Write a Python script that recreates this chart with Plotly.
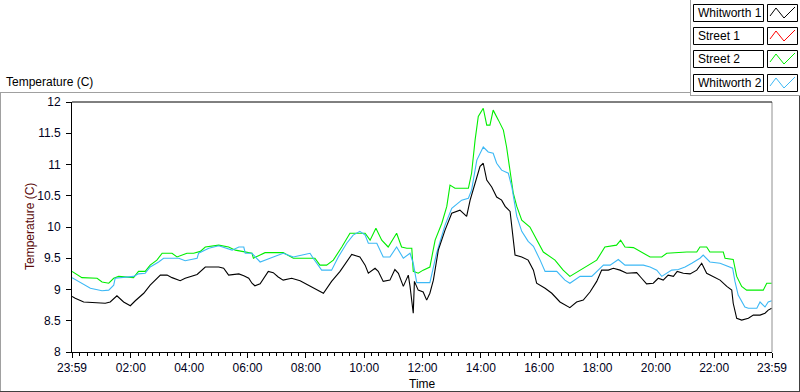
import plotly.graph_objects as go

# ---------------- data (hours elapsed since 23:59, temperature in C) ----------------
series_names = ["Whitworth 1", "Street 1", "Street 2", "Whitworth 2"]
series_colors = ["#000000", "#ff0000", "#00ee00", "#3cb8f5"]

tick_labels = ["23:59", "02:00", "04:00", "06:00", "08:00", "10:00", "12:00",
               "14:00", "16:00", "18:00", "20:00", "22:00", "23:59"]
tick_hours = [0] + [2 * i + 1 / 60 for i in range(1, 12)] + [24]

whitworth1_h = [
    0.00, 0.11, 0.40, 0.69, 1.14, 1.31, 1.54, 1.77, 2.00, 2.17,
    2.46, 2.68, 3.03, 3.26, 3.43, 3.71, 3.88, 4.29, 4.57, 5.03,
    5.20, 5.37, 5.72, 5.89, 6.06, 6.17, 6.27, 6.45, 6.73, 6.90,
    7.07, 7.24, 7.53, 7.82, 8.10, 8.33, 8.62, 8.90, 9.19, 9.59,
    9.87, 10.05, 10.16, 10.39, 10.50, 10.67, 10.90, 11.07, 11.19, 11.36,
    11.53, 11.59, 11.70, 11.74, 11.87, 12.04, 12.16, 12.27, 12.39, 12.56,
    12.79, 13.02, 13.30, 13.53, 13.65, 13.82, 13.99, 14.10, 14.22, 14.39,
    14.56, 14.73, 14.85, 15.02, 15.11, 15.19, 15.42, 15.64, 15.82, 15.93,
    16.22, 16.45, 16.73, 17.07, 17.30, 17.53, 17.76, 17.99, 18.16, 18.39,
    18.56, 18.79, 19.02, 19.36, 19.53, 19.70, 19.93, 20.10, 20.27, 20.44,
    20.62, 20.75, 20.96, 21.19, 21.42, 21.59, 21.76, 21.99, 22.22, 22.45,
    22.62, 22.67, 22.79, 22.96, 23.19, 23.36, 23.59, 23.76, 23.87, 23.99]
whitworth1_t = [
    8.89, 8.86, 8.80, 8.79, 8.78, 8.80, 8.90, 8.80, 8.74, 8.82,
    8.94, 9.07, 9.23, 9.23, 9.19, 9.14, 9.18, 9.24, 9.36, 9.36,
    9.34, 9.23, 9.25, 9.22, 9.18, 9.10, 9.06, 9.09, 9.29, 9.27,
    9.20, 9.15, 9.18, 9.14, 9.07, 9.00, 8.94, 9.13, 9.29, 9.56,
    9.52, 9.39, 9.26, 9.34, 9.29, 9.13, 9.15, 9.32, 9.26, 9.05,
    9.23, 9.05, 8.62, 9.13, 8.99, 8.96, 8.83, 8.94, 9.15, 9.63,
    9.95, 10.22, 10.27, 10.17, 10.43, 10.70, 10.97, 11.02, 10.75, 10.64,
    10.48, 10.43, 10.33, 10.25, 9.85, 9.55, 9.52, 9.47, 9.31, 9.10,
    9.02, 8.94, 8.80, 8.71, 8.80, 8.83, 8.96, 9.13, 9.31, 9.31,
    9.34, 9.31, 9.26, 9.27, 9.18, 9.09, 9.10, 9.18, 9.15, 9.23,
    9.21, 9.29, 9.26, 9.25, 9.31, 9.42, 9.26, 9.21, 9.15, 9.05,
    8.99, 8.78, 8.54, 8.51, 8.54, 8.59, 8.59, 8.62, 8.67, 8.70]

street1_h = []
street1_t = []

street2_h = [
    0.00, 0.23, 0.34, 0.86, 1.03, 1.26, 1.43, 1.60, 2.11, 2.28,
    2.51, 2.68, 2.91, 3.09, 3.43, 3.60, 3.94, 4.17, 4.40, 4.57,
    5.03, 5.37, 5.60, 5.83, 6.17, 6.22, 6.62, 7.24, 7.59, 8.33,
    8.50, 8.73, 8.96, 9.25, 9.53, 10.05, 10.22, 10.42, 10.62, 10.84,
    11.13, 11.30, 11.48, 11.65, 11.70, 11.87, 12.04, 12.27, 12.45, 12.68,
    12.85, 12.96, 13.13, 13.59, 13.70, 13.82, 13.93, 14.10, 14.22, 14.33,
    14.44, 14.62, 14.79, 14.90, 15.13, 15.25, 15.42, 15.70, 15.93, 16.16,
    16.56, 16.84, 17.07, 17.42, 17.70, 17.99, 18.27, 18.67, 18.81, 18.96,
    19.25, 19.47, 19.82, 20.22, 20.39, 21.08, 21.42, 21.53, 21.76, 21.87,
    22.33, 22.39, 22.67, 22.79, 22.96, 23.13, 23.70, 23.82, 23.99]
street2_t = [
    9.29, 9.23, 9.19, 9.18, 9.12, 9.10, 9.18, 9.21, 9.19, 9.29,
    9.29, 9.39, 9.47, 9.58, 9.58, 9.52, 9.58, 9.58, 9.61, 9.68,
    9.71, 9.68, 9.63, 9.61, 9.58, 9.50, 9.59, 9.59, 9.50, 9.50,
    9.39, 9.39, 9.47, 9.68, 9.90, 9.90, 9.79, 9.98, 9.79, 9.68,
    9.90, 9.68, 9.66, 9.66, 9.29, 9.26, 9.31, 9.36, 9.79, 10.06,
    10.33, 10.67, 10.62, 10.62, 10.86, 11.39, 11.77, 11.90, 11.63, 11.63,
    11.87, 11.71, 11.55, 11.28, 10.54, 10.33, 10.11, 10.00, 9.79, 9.60,
    9.47, 9.31, 9.21, 9.31, 9.39, 9.47, 9.68, 9.71, 9.79, 9.68,
    9.67, 9.61, 9.52, 9.52, 9.58, 9.60, 9.60, 9.68, 9.68, 9.60,
    9.60, 9.50, 9.48, 9.21, 9.05, 8.99, 8.99, 9.10, 9.10]

whitworth2_h = [
    0.00, 0.23, 0.46, 0.63, 1.03, 1.26, 1.43, 1.48, 2.11, 2.28,
    2.51, 2.68, 2.97, 3.14, 3.66, 3.88, 4.29, 4.34, 4.69, 5.03,
    5.49, 5.72, 5.89, 5.94, 6.17, 6.45, 6.79, 7.24, 7.59, 8.16,
    8.27, 8.39, 8.56, 8.90, 9.13, 9.42, 9.64, 9.87, 10.05, 10.16,
    10.45, 10.67, 10.90, 11.13, 11.36, 11.59, 11.70, 11.82, 12.27, 12.50,
    12.79, 13.02, 13.36, 13.59, 13.70, 13.88, 14.10, 14.27, 14.44, 14.56,
    14.73, 14.96, 15.08, 15.25, 15.42, 15.64, 15.82, 16.05, 16.22, 16.62,
    16.90, 17.07, 17.42, 17.82, 18.04, 18.22, 18.45, 18.73, 18.96, 19.59,
    19.82, 20.05, 20.22, 20.56, 20.79, 21.02, 21.25, 21.53, 21.64, 21.87,
    22.22, 22.50, 22.65, 22.73, 22.84, 23.07, 23.19, 23.48, 23.59, 23.76,
    23.87, 23.99]
whitworth2_t = [
    9.19, 9.13, 9.07, 9.02, 8.98, 8.99, 9.07, 9.18, 9.21, 9.25,
    9.26, 9.36, 9.44, 9.50, 9.50, 9.46, 9.50, 9.58, 9.66, 9.70,
    9.63, 9.68, 9.68, 9.58, 9.58, 9.44, 9.50, 9.58, 9.52, 9.58,
    9.50, 9.42, 9.31, 9.31, 9.52, 9.74, 9.87, 9.93, 9.87, 9.74,
    9.74, 9.52, 9.52, 9.68, 9.50, 9.58, 9.42, 9.11, 9.11, 9.58,
    10.03, 10.30, 10.43, 10.46, 10.59, 11.07, 11.28, 11.20, 11.18, 11.02,
    10.91, 10.86, 10.64, 10.17, 9.93, 9.77, 9.69, 9.47, 9.29, 9.29,
    9.15, 9.10, 9.21, 9.21, 9.31, 9.39, 9.39, 9.48, 9.39, 9.39,
    9.36, 9.31, 9.21, 9.31, 9.32, 9.36, 9.42, 9.50, 9.55, 9.44,
    9.42, 9.37, 9.34, 9.13, 8.91, 8.72, 8.70, 8.70, 8.80, 8.72,
    8.80, 8.82]

y_ticks = [8, 8.5, 9, 9.5, 10, 10.5, 11, 11.5, 12]

# ---------------- figure ----------------
W, H = 800, 392
L, R, T, B = 72, 772, 102, 352   # plot area in pixels
FONT = "Liberation Sans"
FS = 12


def px(x):
    return (x - L) / (R - L)


def py(y):
    return (B - y) / (B - T)


fig = go.Figure()
xs = [whitworth1_h, street1_h, street2_h, whitworth2_h]
ys = [whitworth1_t, street1_t, street2_t, whitworth2_t]
for i in [1, 2, 3, 0]:
    fig.add_trace(go.Scatter(x=xs[i], y=ys[i], mode="lines", name=series_names[i],
                             line=dict(color=series_colors[i], width=1.1),
                             showlegend=False, hoverinfo="skip"))

shapes = []
annotations = []

frame_grey = "#a0a0a0"
shapes.append(dict(type="line", xref="paper", yref="paper", x0=px(0), x1=px(690), y0=py(92.5), y1=py(92.5),
                   line=dict(color=frame_grey, width=1)))
shapes.append(dict(type="line", xref="paper", yref="paper", x0=px(0.5), x1=px(0.5), y0=py(92), y1=py(392),
                   line=dict(color=frame_grey, width=1)))
shapes.append(dict(type="line", xref="paper", yref="paper", x0=px(0), x1=px(800), y0=py(391.5), y1=py(391.5),
                   line=dict(color="#404040", width=1)))
shapes.append(dict(type="line", xref="paper", yref="paper", x0=px(799.5), x1=px(799.5), y0=py(95), y1=py(392),
                   line=dict(color="#404040", width=1)))
shapes.append(dict(type="line", xref="paper", yref="paper", x0=px(690.5), x1=px(690.5), y0=py(0), y1=py(95),
                   line=dict(color=frame_grey, width=1)))
shapes.append(dict(type="line", xref="paper", yref="paper", x0=px(690), x1=px(800), y0=py(95.5), y1=py(95.5),
                   line=dict(color=frame_grey, width=1)))
shapes.append(dict(type="line", xref="paper", yref="paper", x0=1, x1=1, y0=0, y1=1,
                   line=dict(color="#909090", width=1)))

row_tops = [4, 27, 50, 74]
for i, name in enumerate(series_names):
    t = row_tops[i]
    shapes.append(dict(type="rect", xref="paper", yref="paper",
                       x0=px(693.5), x1=px(763.5), y0=py(t + 0.5), y1=py(t + 17.5),
                       line=dict(color="#000000", width=1), fillcolor="white"))
    shapes.append(dict(type="rect", xref="paper", yref="paper",
                       x0=px(767.5), x1=px(797.5), y0=py(t + 0.5), y1=py(t + 17.5),
                       line=dict(color="#000000", width=1), fillcolor="white"))
    pts = [(770, t + 12), (776, t + 4), (784, t + 14), (795, t + 3)]
    path = "M " + " L ".join(f"{px(a):.5f},{py(b):.5f}" for a, b in pts)
    shapes.append(dict(type="path", xref="paper", yref="paper", path=path,
                       line=dict(color=series_colors[i], width=1)))
    annotations.append(dict(xref="paper", yref="paper", x=px(695.5), y=py(t + 9),
                            xanchor="left", yanchor="middle", showarrow=False, text=name,
                            font=dict(family=FONT, size=FS, color="#000000")))

annotations.append(dict(xref="paper", yref="paper", x=px(4), y=py(82), xanchor="left", yanchor="middle",
                        showarrow=False, text="Temperature (C)",
                        font=dict(family=FONT, size=FS, color="#000000")))
# y-axis title
annotations.append(dict(xref="paper", yref="paper", x=px(30), y=py(227), xanchor="center", yanchor="middle",
                        showarrow=False, text="Temperature (C)", textangle=-90,
                        font=dict(family=FONT, size=FS, color="#5a0a0a")))
# x-axis title
annotations.append(dict(xref="paper", yref="paper", x=px(422), y=py(384), xanchor="center", yanchor="middle",
                        showarrow=False, text="Time",
                        font=dict(family=FONT, size=FS, color="#000000")))

fig.update_layout(
    width=W, height=H,
    margin=dict(l=L, r=W - R, t=T, b=H - B, pad=0),
    paper_bgcolor="white", plot_bgcolor="white",
    font=dict(family=FONT, size=FS, color="#000000"),
    shapes=shapes, annotations=annotations,
    showlegend=False,
    xaxis=dict(range=[0, 24], tickmode="array", tickvals=tick_hours, ticktext=tick_labels,
               automargin=False,
               ticks="outside", ticklen=5, tickcolor="#000000", showgrid=False, zeroline=False,
               showline=True, linecolor="#000000", linewidth=1, mirror=False,
               ticklabelstandoff=0,
               tickfont=dict(family=FONT, size=FS, color="#000020"),
               minor=dict(ticks="outside", ticklen=3, tickcolor="#000000", dtick=0.25, tick0=1 / 60,
                          showgrid=False)),
    yaxis=dict(range=[8, 12], tickmode="array", tickvals=y_ticks,
               ticktext=[f"{v:g}" for v in y_ticks],
               automargin=False,
               ticks="outside", ticklen=5, tickcolor="#000000", showgrid=False, zeroline=False,
               showline=True, linecolor="#000000", linewidth=1,
               ticklabelstandoff=3,
               tickfont=dict(family=FONT, size=FS, color="#000020")),
)
fig.add_shape(type="line", xref="paper", yref="paper", x0=0, x1=1, y0=1, y1=1,
              line=dict(color="#000000", width=1))

fig.write_html("out.html", config={"displayModeBar": False},
               post_script="document.body.style.margin='0';document.body.style.padding='0';")
